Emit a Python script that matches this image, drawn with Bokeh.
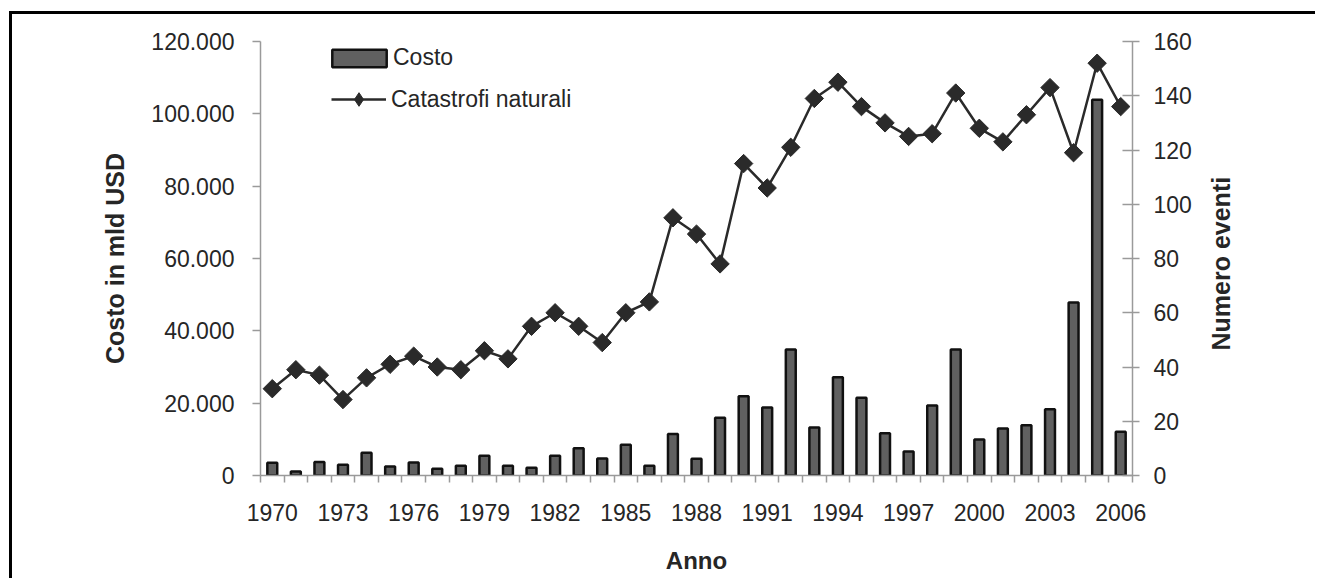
import numpy as np
from bokeh.plotting import figure
from bokeh.models import (Range1d, LinearAxis, FixedTicker, Legend, LegendItem)
from bokeh.embed import file_html
from bokeh.resources import INLINE

# ---- data ----
years = list(range(1970, 2007))
costo = [3500, 1100, 3700, 3000, 6300, 2500, 3600, 1850, 2700, 5450,
         2700, 2150, 5450, 7550, 4700, 8500, 2700, 11500, 4600, 16000,
         21900, 18800, 34850, 13300, 27200, 21500, 11700, 6650, 19350, 34850,
         9950, 13000, 13900, 18350, 47850, 103900, 12100]
eventi = [32, 39, 37, 28, 36, 41, 44, 40, 39, 46,
          43, 55, 60, 55, 49, 60, 64, 95, 89, 78,
          115, 106, 121, 139, 145, 136, 130, 125, 126, 141,
          128, 123, 133, 143, 119, 152, 136]
left_ticks = [0, 20000, 40000, 60000, 80000, 100000, 120000]
right_ticks = [0, 20, 40, 60, 80, 100, 120, 140, 160]
x_label_years = years[::3]
x_boundaries = [y - 0.5 for y in years] + [years[-1] + 0.5]

FONT = "Liberation Sans"
TXT = "#262626"
AX = "#9a9a9a"
DARK = "#2a2a2a"

p = figure(width=1306, height=567,
           x_range=Range1d(years[0] - 0.5, years[-1] + 0.5),
           y_range=Range1d(left_ticks[0], left_ticks[-1]),
           output_backend="svg", toolbar_location=None,
           min_border_left=248, min_border_right=186,
           min_border_top=27, min_border_bottom=106)
p.extra_y_ranges = {"ev": Range1d(right_ticks[0], right_ticks[-1])}
p.xgrid.visible = False
p.ygrid.visible = False
p.outline_line_color = None
p.background_fill_color = "white"
p.border_fill_color = "white"
p.styles = {"border-top": "3px solid black", "border-left": "3px solid black",
            "margin-left": "9px", "margin-top": "11px"}

# left axis
ya = p.yaxis[0]
ya.ticker = FixedTicker(ticks=left_ticks)
ya.major_label_overrides = {v: f"{v:,}".replace(",", ".") for v in left_ticks}
ya.major_tick_out = 8
ya.major_tick_in = 0
ya.minor_tick_line_color = None
ya.major_tick_line_color = AX
ya.axis_line_color = AX
ya.axis_line_width = 1.5
ya.major_tick_line_width = 1.5
ya.major_label_standoff = 18
ya.major_label_text_font = FONT
ya.major_label_text_font_size = "23px"
ya.major_label_text_color = TXT
ya.axis_label = "Costo in mld USD"
ya.axis_label_text_font = FONT
ya.axis_label_text_font_size = "25px"
ya.axis_label_text_font_style = "bold"
ya.axis_label_text_color = TXT
ya.axis_label_standoff = 19

# right axis (title reads bottom-to-top, like the reference)
ra = LinearAxis(y_range_name="ev", ticker=FixedTicker(ticks=right_ticks))
ra.major_tick_out = 7
ra.major_tick_in = 10
ra.minor_tick_line_color = None
ra.major_tick_line_color = AX
ra.axis_line_color = AX
ra.axis_line_width = 1.5
ra.major_tick_line_width = 1.5
ra.major_label_standoff = 14
ra.major_label_text_font = FONT
ra.major_label_text_font_size = "23px"
ra.major_label_text_color = TXT
ra.axis_label_text_font = FONT
ra.axis_label_text_font_size = "25px"
ra.axis_label_text_font_style = "bold"
ra.axis_label_text_color = TXT
ra.axis_label_standoff = 26
props = ra.properties()
if "axis_label_orientation" in props and "axis_label_align" in props:
    ra.axis_label_orientation = np.pi / 2
    ra.axis_label_align = "start"
    ra.axis_label = "\u00a0" * 18 + "Numero eventi"
else:
    ra.axis_label = "Numero eventi"
p.add_layout(ra, "right")

# bottom axis
xa = p.xaxis[0]
xa.ticker = FixedTicker(ticks=x_label_years, minor_ticks=x_boundaries)
xa.major_tick_out = 0
xa.major_tick_in = 0
xa.major_tick_line_color = None
xa.minor_tick_out = 7
xa.minor_tick_in = 0
xa.minor_tick_line_color = AX
xa.minor_tick_line_width = 1.5
xa.axis_line_color = AX
xa.axis_line_width = 1.5
xa.major_label_standoff = 21
xa.major_label_text_font = FONT
xa.major_label_text_font_size = "23px"
xa.major_label_text_color = TXT
xa.axis_label = "Anno"
xa.axis_label_text_font = FONT
xa.axis_label_text_font_size = "24px"
xa.axis_label_text_font_style = "bold"
xa.axis_label_text_color = TXT
xa.axis_label_standoff = 23

# bars
bars = p.vbar(x=years, top=costo, width=0.42, fill_color="#606060",
              line_color="#111111", line_width=2.5)

# line + markers
ln = p.line(years, eventi, y_range_name="ev", line_color=DARK, line_width=2.5)
mk = p.scatter(years, eventi, y_range_name="ev", marker="square", size=13,
               angle=np.pi / 4, fill_color=DARK, line_color=DARK)
# legend-only diamond (a single point with no position, never drawn in the plot)
mk_leg = p.scatter(x=np.array([np.nan]), y=np.array([np.nan]), y_range_name="ev",
                   marker="diamond", fill_color=DARK, line_color=DARK)

leg1 = Legend(items=[LegendItem(label="Costo", renderers=[bars])],
              location=(65, 404), glyph_width=68, glyph_height=22,
              label_height=22, label_standoff=0, padding=0, margin=0,
              border_line_color=None, background_fill_alpha=0,
              label_text_font=FONT, label_text_font_size="23px",
              label_text_color=TXT)
leg2 = Legend(items=[LegendItem(label="Catastrofi naturali", renderers=[ln, mk_leg])],
              location=(71, 359), glyph_width=55, glyph_height=34,
              label_height=34, label_standoff=5, padding=0, margin=0,
              border_line_color=None, background_fill_alpha=0,
              label_text_font=FONT, label_text_font_size="23px",
              label_text_color=TXT)
p.add_layout(leg1)
p.add_layout(leg2)

open("out.html", "w").write(file_html(p, INLINE))
